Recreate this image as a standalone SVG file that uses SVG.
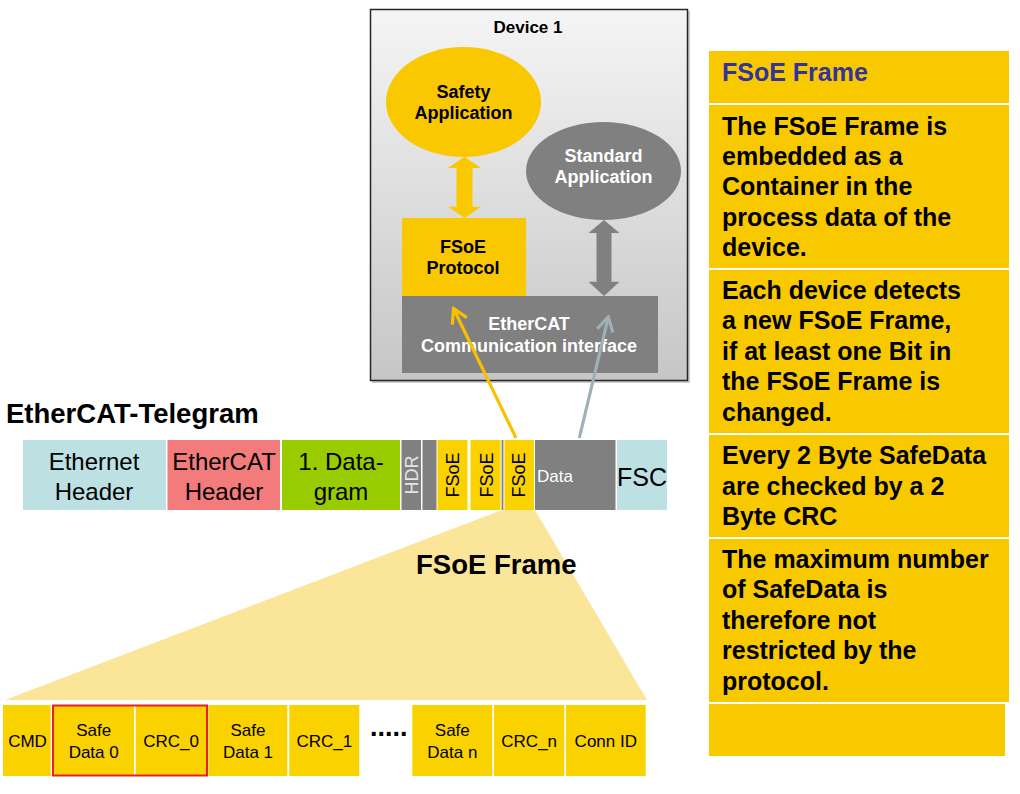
<svg xmlns="http://www.w3.org/2000/svg" width="1020" height="794" viewBox="0 0 1020 794">
<defs>
<linearGradient id="devbg" x1="0" y1="0" x2="0" y2="1">
<stop offset="0" stop-color="#F5F5F5"/>
<stop offset="1" stop-color="#C6C6C6"/>
</linearGradient>
<marker id="headY" viewBox="-16 -10 18 20" refX="0" refY="0" markerWidth="18" markerHeight="20" markerUnits="userSpaceOnUse" orient="auto">
<path d="M-14,-8 L0,0 L-14,8" fill="none" stroke="#F9C000" stroke-width="3.2"/>
</marker>
<marker id="headG" viewBox="-16 -10 18 20" refX="0" refY="0" markerWidth="18" markerHeight="20" markerUnits="userSpaceOnUse" orient="auto">
<path d="M-14,-8 L0,0 L-14,8" fill="none" stroke="#9DB2B6" stroke-width="3.2"/>
</marker>
</defs>
<style>
text{font-family:"Liberation Sans",Arial,sans-serif;}
.b{font-weight:bold;}
.c{text-anchor:middle;}
.yel{fill:#FAD200;}
.gold{fill:#F9C800;}
.gray{fill:#808080;}
.lb{fill:#BDE0E3;}
.panel{fill:#F9C900;}
.pt{font-size:25px;font-weight:bold;fill:#000;}
.tg{font-size:24px;fill:#000;}
.fr{font-size:17px;fill:#000;}
.dv{font-size:18px;font-weight:bold;}
.vt{font-size:18px;text-anchor:middle;}
</style>

<rect width="1020" height="794" fill="#FFFFFF"/>

<!-- Device 1 -->
<g id="device1">
<rect x="372" y="11" width="318" height="372" fill="#9a9a9a" opacity="0.5"/>
<rect x="370.5" y="9.5" width="317" height="371" fill="url(#devbg)" stroke="#262626" stroke-width="1.5"/>
<text x="528" y="33" class="c b" font-size="17">Device 1</text>
</g>

<g id="safety-app">
<ellipse cx="463.5" cy="102" rx="77.5" ry="55" class="gold"/>
<text x="463.5" y="98" class="c dv">Safety</text>
<text x="463.5" y="119" class="c dv">Application</text>
</g>

<g id="standard-app">
<ellipse cx="603.5" cy="171" rx="77.5" ry="49" class="gray"/>
<text x="603.5" y="161.7" class="c dv" fill="#FFFFFF">Standard</text>
<text x="603.5" y="182.7" class="c dv" fill="#FFFFFF">Application</text>
</g>

<g id="fsoe-protocol">
<rect x="402" y="218" width="124" height="78" class="gold"/>
<text x="463" y="253" class="c dv">FSoE</text>
<text x="463" y="274" class="c dv">Protocol</text>
</g>

<g id="ethercat-comm">
<rect x="402" y="296" width="256" height="77" class="gray"/>
<text x="529" y="330" class="c dv" fill="#FFFFFF">EtherCAT</text>
<text x="529" y="351.7" class="c dv" fill="#FFFFFF">Communication interface</text>
</g>

<!-- Title -->
<g id="telegram-title">
<text x="6" y="423.3" class="b" font-size="27.5">EtherCAT-Telegram</text>
</g>

<!-- Fan -->
<g id="fan">
<polygon points="502,510 535,510 647,700 5,700" fill="#FBE599"/>
<text x="416" y="574.3" class="b" font-size="27.5">FSoE Frame</text>
</g>

<!-- Telegram row -->
<g id="telegram">
<g id="eth-header">
<rect x="23" y="440" width="143" height="70" class="lb"/>
<text x="94" y="470" class="c tg">Ethernet</text>
<text x="94" y="500" class="c tg">Header</text>
</g>
<g id="ecat-header">
<rect x="167.5" y="440" width="112.5" height="70" fill="#F47B7B"/>
<text x="224" y="470" class="c tg">EtherCAT</text>
<text x="224" y="500" class="c tg">Header</text>
</g>
<g id="datagram">
<rect x="282" y="440" width="118" height="70" fill="#99CC00"/>
<text x="341" y="470" class="c tg">1. Data-</text>
<text x="341" y="500" class="c tg">gram</text>
</g>
<g id="hdr">
<rect x="401.5" y="440" width="19.5" height="70" class="gray"/>
<text transform="translate(418.3,475) rotate(-90)" class="vt" fill="#E6E6E6">HDR</text>
</g>
<g id="gray-slot">
<rect x="422.5" y="440" width="14" height="70" class="gray"/>
</g>
<g id="fsoe-1">
<rect x="437.5" y="440" width="30" height="70" class="yel"/>
<text transform="translate(459,475) rotate(-90)" class="vt">FSoE</text>
</g>
<g id="fsoe-2">
<rect x="470.5" y="440" width="30" height="70" class="yel"/>
<text transform="translate(492.7,475) rotate(-90)" class="vt">FSoE</text>
</g>
<rect x="501.6" y="440" width="1.8" height="70" class="gray"/>
<g id="fsoe-3">
<rect x="504.5" y="440" width="29.5" height="70" class="yel"/>
<text transform="translate(525.3,475) rotate(-90)" class="vt">FSoE</text>
</g>
<g id="data">
<rect x="535" y="440" width="80.5" height="70" class="gray"/>
<text x="537" y="482.3" font-size="17" fill="#FFFFFF">Data</text>
</g>
<g id="fsc">
<rect x="617" y="440" width="50" height="70" class="lb"/>
<text x="642" y="485.7" class="c" font-size="25">FSC</text>
</g>
</g>

<!-- FSoE frame row -->
<g id="frame">
<g id="cmd">
<rect x="3" y="705" width="47.7" height="71" class="yel"/>
<text x="27.5" y="747.3" class="c fr">CMD</text>
</g>
<g id="safe-data-0">
<rect x="53.3" y="705" width="80.7" height="71" class="yel"/>
<text x="93.7" y="735.7" class="c fr">Safe</text>
<text x="93.7" y="757.7" class="c fr">Data 0</text>
</g>
<g id="crc-0">
<rect x="135.7" y="705" width="71" height="71" class="yel"/>
<text x="171" y="747.3" class="c fr">CRC_0</text>
</g>
<g id="safe-data-1">
<rect x="208.3" y="705" width="79" height="71" class="yel"/>
<text x="248" y="735.7" class="c fr">Safe</text>
<text x="248" y="757.7" class="c fr">Data 1</text>
</g>
<g id="crc-1">
<rect x="289.3" y="705" width="70" height="71" class="yel"/>
<text x="324.3" y="747.3" class="c fr">CRC_1</text>
</g>
<g id="dots">
<text x="388.7" y="736" class="c b" font-size="27">.....</text>
</g>
<g id="safe-data-n">
<rect x="412.3" y="705" width="80" height="71" class="yel"/>
<text x="452.3" y="735.7" class="c fr">Safe</text>
<text x="452.3" y="757.7" class="c fr">Data n</text>
</g>
<g id="crc-n">
<rect x="494" y="705" width="70.3" height="71" class="yel"/>
<text x="529.2" y="747.3" class="c fr">CRC_n</text>
</g>
<g id="conn-id">
<rect x="566" y="705" width="79.7" height="71" class="yel"/>
<text x="605.8" y="747.3" class="c fr">Conn ID</text>
</g>
<rect id="highlight" x="53" y="705.5" width="154" height="70" fill="none" stroke="#E5202A" stroke-width="2"/>
</g>

<!-- Connectors -->
<g id="connectors">
<polygon points="464.5,156.7 481,168 472.5,168 472.5,206.7 481,206.7 464.5,218 448,206.7 456.5,206.7 456.5,168 448,168" fill="#F9C800"/>
<polygon points="604,220 619.5,233 611.5,233 611.5,281.7 619.5,281.7 604,296 588.5,281.7 596.5,281.7 596.5,233 588.5,233" fill="#808080"/>
<line x1="516" y1="438" x2="453.5" y2="308.5" stroke="#F9C000" stroke-width="3.2" marker-end="url(#headY)"/>
<line x1="579.3" y1="438" x2="608.3" y2="317" stroke="#9DB2B6" stroke-width="3.2" marker-end="url(#headG)"/>
</g>

<!-- Right panel -->
<g id="panel-header">
<rect x="709" y="51" width="300" height="52" class="panel"/>
<text x="722" y="80.7" class="b" font-size="25" fill="#333399">FSoE Frame</text>
</g>
<g id="panel-1">
<rect x="709" y="105" width="300" height="163" class="panel"/>
<text class="pt"><tspan x="722" y="134.5">The FSoE Frame is</tspan><tspan x="722" y="164.9">embedded as a</tspan><tspan x="722" y="195.3">Container in the</tspan><tspan x="722" y="225.7">process data of the</tspan><tspan x="722" y="256.1">device.</tspan></text>
</g>
<g id="panel-2">
<rect x="709" y="270" width="300" height="163" class="panel"/>
<text class="pt"><tspan x="722" y="299">Each device detects</tspan><tspan x="722" y="329.4">a new FSoE Frame,</tspan><tspan x="722" y="359.8">if at least one Bit in</tspan><tspan x="722" y="390.2">the FSoE Frame is</tspan><tspan x="722" y="420.6">changed.</tspan></text>
</g>
<g id="panel-3">
<rect x="709" y="435" width="300" height="102" class="panel"/>
<text class="pt"><tspan x="722" y="464.3">Every 2 Byte SafeData</tspan><tspan x="722" y="494.5">are checked by a 2</tspan><tspan x="722" y="524.7">Byte CRC</tspan></text>
</g>
<g id="panel-4">
<rect x="709" y="539" width="300" height="163" class="panel"/>
<text class="pt"><tspan x="722" y="568">The maximum number</tspan><tspan x="722" y="598.4">of SafeData is</tspan><tspan x="722" y="628.8">therefore not</tspan><tspan x="722" y="659.2">restricted by the</tspan><tspan x="722" y="689.6">protocol.</tspan></text>
</g>
<g id="panel-5">
<rect x="709" y="704" width="296" height="52" class="panel"/>
</g>
</svg>
